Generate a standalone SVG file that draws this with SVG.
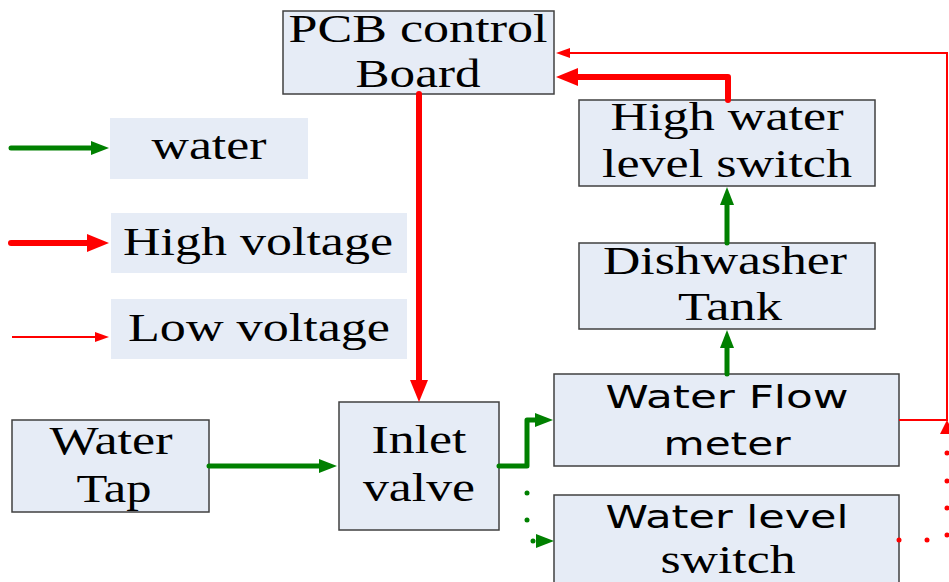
<svg xmlns="http://www.w3.org/2000/svg" width="949" height="582" viewBox="0 0 949 582">
<style>
.box{fill:#E6ECF6;stroke:#404040;stroke-width:1.5}
.leg{fill:#E6ECF6}
.s{font-family:"Liberation Serif","Times New Roman",serif;font-size:41px;fill:#000}
.ss{font-family:"DejaVu Sans",Verdana,sans-serif;font-size:32px;fill:#000}
.g{fill:none;stroke:#008000;stroke-width:5;stroke-linecap:round;stroke-linejoin:round}
.rh{fill:none;stroke:#FF0000;stroke-width:6;stroke-linecap:round;stroke-linejoin:round}
.rl{fill:none;stroke:#FF0000;stroke-width:2}
.gd{fill:#008000}
.rd{fill:#FF0000}
</style>
<defs>
<marker id="ag" markerUnits="userSpaceOnUse" markerWidth="18" markerHeight="14" refX="1" refY="7" orient="auto"><path d="M0,0 L18,7 L0,14 z" fill="#008000"/></marker>
<marker id="arh" markerUnits="userSpaceOnUse" markerWidth="22" markerHeight="18" refX="1" refY="9" orient="auto"><path d="M0,0 L22,9 L0,18 z" fill="#FF0000"/></marker>
<marker id="arl" markerUnits="userSpaceOnUse" markerWidth="14" markerHeight="10" refX="1" refY="5" orient="auto"><path d="M0,0 L14,5 L0,10 z" fill="#FF0000"/></marker>
</defs>
<rect width="949" height="582" fill="#fff"/>

<g id="legend">
<rect class="leg" x="110" y="118" width="198" height="61"/>
<rect class="leg" x="111" y="213" width="296" height="60"/>
<rect class="leg" x="111" y="299" width="296" height="60"/>
<text class="s" x="209" y="159" text-anchor="middle" textLength="115" lengthAdjust="spacingAndGlyphs">water</text>
<text class="s" x="258" y="255" text-anchor="middle" textLength="270" lengthAdjust="spacingAndGlyphs">High voltage</text>
<text class="s" x="259" y="341" text-anchor="middle" textLength="262" lengthAdjust="spacingAndGlyphs">Low voltage</text>
</g>

<g id="pcb">
<rect class="box" x="283" y="11" width="271" height="83"/>
<text class="s" x="418" y="42" text-anchor="middle" textLength="259" lengthAdjust="spacingAndGlyphs">PCB control</text>
<text class="s" x="418" y="87" text-anchor="middle" textLength="125" lengthAdjust="spacingAndGlyphs">Board</text>
</g>

<g id="highwater">
<rect class="box" x="579" y="100" width="296" height="86"/>
<text class="s" x="727" y="130" text-anchor="middle" textLength="233" lengthAdjust="spacingAndGlyphs">High water</text>
<text class="s" x="727" y="177" text-anchor="middle" textLength="250" lengthAdjust="spacingAndGlyphs">level switch</text>
</g>

<g id="tank">
<rect class="box" x="579" y="243" width="296" height="86"/>
<text class="s" x="725" y="274" text-anchor="middle" textLength="244" lengthAdjust="spacingAndGlyphs">Dishwasher</text>
<text class="s" x="730" y="320" text-anchor="middle" textLength="104" lengthAdjust="spacingAndGlyphs">Tank</text>
</g>

<g id="flowmeter">
<rect class="box" x="554" y="374" width="345" height="92"/>
<text class="ss" x="727" y="408" text-anchor="middle" textLength="243" lengthAdjust="spacingAndGlyphs">Water Flow</text>
<text class="ss" x="727" y="455" text-anchor="middle" textLength="127" lengthAdjust="spacingAndGlyphs">meter</text>
</g>

<g id="levelswitch">
<rect class="box" x="554" y="495" width="345" height="95"/>
<text class="ss" x="727" y="528" text-anchor="middle" textLength="243" lengthAdjust="spacingAndGlyphs">Water level</text>
<text class="s" x="728" y="573" text-anchor="middle" textLength="135" lengthAdjust="spacingAndGlyphs">switch</text>
</g>

<g id="inlet">
<rect class="box" x="339" y="402" width="160" height="128"/>
<text class="s" x="419" y="453" text-anchor="middle" textLength="95" lengthAdjust="spacingAndGlyphs">Inlet</text>
<text class="s" x="419" y="501" text-anchor="middle" textLength="112" lengthAdjust="spacingAndGlyphs">valve</text>
</g>

<g id="tap">
<rect class="box" x="12" y="420" width="197" height="92"/>
<text class="s" x="111" y="454" text-anchor="middle" textLength="123" lengthAdjust="spacingAndGlyphs">Water</text>
<text class="s" x="114" y="502" text-anchor="middle" textLength="75" lengthAdjust="spacingAndGlyphs">Tap</text>
</g>

<g id="connectors">
<path class="g" d="M11,148 H92" marker-end="url(#ag)"/>
<path class="rh" d="M11,243 H88" marker-end="url(#arh)"/>
<path class="rl" d="M12,337 H96" marker-end="url(#arl)"/>

<path class="g" d="M209,466 H320" marker-end="url(#ag)"/>
<path class="g" d="M499,466 H527 V420 H536" marker-end="url(#ag)"/>
<circle class="gd" cx="527" cy="493" r="2.5"/>
<circle class="gd" cx="527" cy="520" r="2.5"/>
<circle class="gd" cx="533" cy="541" r="2.5"/>
<polygon class="gd" points="536,534 554,541 536,548"/>
<path class="g" d="M727,374 V347" marker-end="url(#ag)"/>
<path class="g" d="M727,243 V204" marker-end="url(#ag)"/>

<path class="rh" d="M728,100 V77 H577" marker-end="url(#arh)"/>
<path class="rh" d="M419,94 V381" marker-end="url(#arh)"/>
<path class="rl" d="M899,420 H947 V53 H569" marker-end="url(#arl)"/>

<circle class="rd" cx="899" cy="540" r="2.5"/>
<circle class="rd" cx="927" cy="540" r="2.5"/>
<circle class="rd" cx="947" cy="535" r="2.5"/>
<circle class="rd" cx="947" cy="508" r="2.5"/>
<circle class="rd" cx="947" cy="481" r="2.5"/>
<circle class="rd" cx="947" cy="453" r="2.5"/>
<polygon class="rd" points="940,434 947,420 954,434"/>
</g>
</svg>
